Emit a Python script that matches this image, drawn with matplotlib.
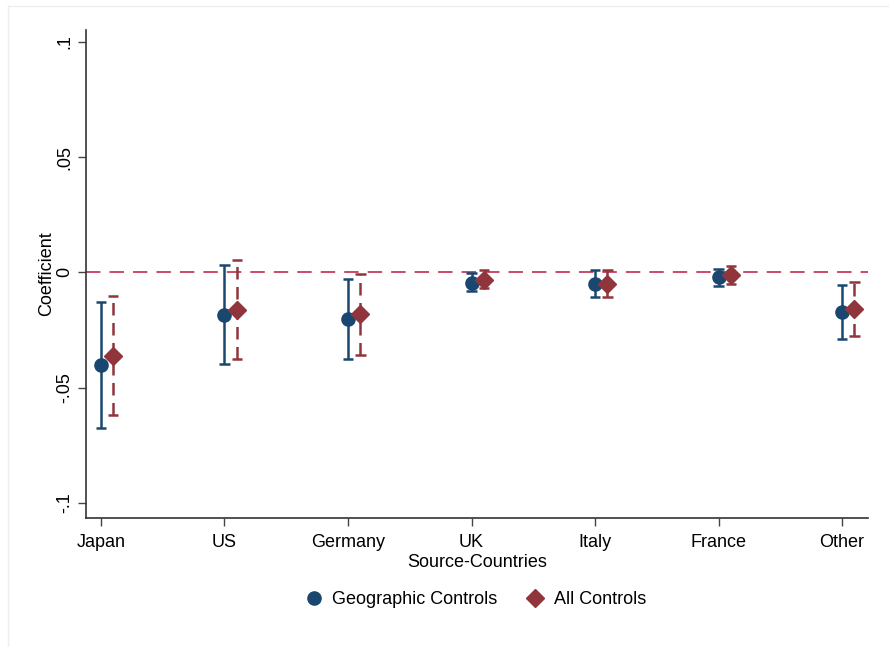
import matplotlib
matplotlib.use("Agg")
import matplotlib.pyplot as plt
import numpy as np
from matplotlib.lines import Line2D

countries = ["Japan", "US", "Germany", "UK", "Italy", "France", "Other"]
geo_coef = [-0.0402, -0.0184, -0.0202, -0.0046, -0.0050, -0.0022, -0.0172]
geo_lo = [-0.0675, -0.0398, -0.0376, -0.0080, -0.0108, -0.0060, -0.0289]
geo_hi = [-0.0128, 0.0033, -0.0027, -0.0003, 0.0009, 0.0016, -0.0056]
all_coef = [-0.0362, -0.0162, -0.0181, -0.0032, -0.0050, -0.0013, -0.0158]
all_lo = [-0.0618, -0.0376, -0.0359, -0.0068, -0.0108, -0.0050, -0.0278]
all_hi = [-0.0104, 0.0052, -0.0006, 0.0009, 0.0009, 0.0026, -0.0043]
yticks = [-0.1, -0.05, 0, 0.05, 0.1]
yticklabels = ["-.1", "-.05", "0", ".05", ".1"]

navy = "#1a476f"
maroon = "#90353b"
zero_col = "#c83c5a"

plt.rcParams["font.family"] = ["Liberation Sans", "DejaVu Sans"]
fig = plt.figure(figsize=(8.89, 6.47), dpi=100)
ax = fig.add_axes([86/889, 1-517.7/647, (868-86)/889, (517.7-30)/647])

x = np.arange(1, len(countries)+1)
off = 0.1

ax.axhline(0, color=zero_col, lw=1.3, dashes=(8, 5), zorder=1)

cw = 0.042
# Geographic controls
ax.vlines(x, geo_lo, geo_hi, color=navy, lw=1.8, zorder=2)
ax.hlines(geo_lo, x-cw, x+cw, color=navy, lw=1.8, zorder=2)
ax.hlines(geo_hi, x-cw, x+cw, color=navy, lw=1.8, zorder=2)
ax.plot(x, geo_coef, "o", color=navy, ms=9.5, zorder=4, ls="none")

# All controls
xa = x + off
ax.vlines(xa, all_lo, all_hi, color=maroon, lw=1.8, linestyles=(0, (5, 3)), zorder=2)
ax.hlines(all_lo, xa-cw, xa+cw, color=maroon, lw=1.8, zorder=2)
ax.hlines(all_hi, xa-cw, xa+cw, color=maroon, lw=1.8, zorder=2)
ax.plot(xa, all_coef, "D", color=maroon, ms=9.5, zorder=5, ls="none")

ax.set_xlim(0.879, 7.21)
ax.set_ylim(-0.1065, 0.1052)
ax.set_xticks(x)
ax.set_xticklabels(countries, fontsize=13)
ax.set_yticks(yticks)
ax.set_yticklabels(yticklabels, fontsize=13, rotation=90, va="center")
ax.tick_params(axis="x", length=6, width=1, color="#444444", pad=6)
ax.tick_params(axis="y", length=6, width=1, color="#444444", pad=3)
for s in ["top", "right"]:
    ax.spines[s].set_visible(False)
for s in ["left", "bottom"]:
    ax.spines[s].set_linewidth(1.2)
    ax.spines[s].set_color("#333333")

ax.set_xlabel("Source-Countries", fontsize=13, labelpad=2)
ax.set_ylabel("Coefficient", fontsize=13, labelpad=1)

handles = [
    Line2D([], [], marker="o", color=navy, ls="none", ms=9.5),
    Line2D([], [], marker="D", color=maroon, ls="none", ms=9.5),
]
fig.legend(handles, ["Geographic Controls", "All Controls"], loc="center",
           bbox_to_anchor=(471/889, 1-600/647), ncol=2, frameon=False,
           fontsize=13, handletextpad=0.0, columnspacing=1.1)

# faint outer border of graph region
fig.add_artist(Line2D([8/889, 8/889], [0, 1-6/647], transform=fig.transFigure,
                      color="#eeeeee", lw=1))
fig.add_artist(Line2D([8/889, 1], [1-6/647, 1-6/647], transform=fig.transFigure,
                      color="#eeeeee", lw=1))

fig.savefig("out.png", dpi=100)
